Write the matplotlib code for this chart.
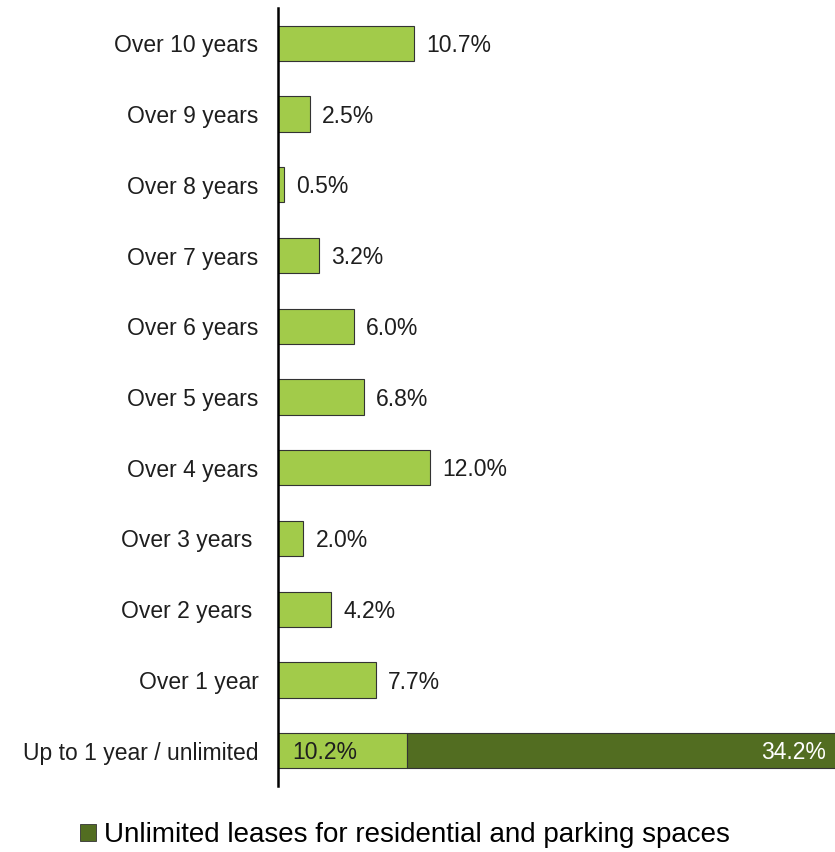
import matplotlib.pyplot as plt
from matplotlib.patches import Patch

plt.rcParams['font.family'] = ['Liberation Sans', 'DejaVu Sans']

# Lease durations, bottom to top
categories = ['Up to 1 year / unlimited', 'Over 1 year', 'Over 2 years ', 'Over 3 years ',
              'Over 4 years', 'Over 5 years', 'Over 6 years', 'Over 7 years',
              'Over 8 years', 'Over 9 years', 'Over 10 years']
shares = [10.2, 7.7, 4.2, 2.0, 12.0, 6.8, 6.0, 3.2, 0.5, 2.5, 10.7]
# extra segment only on the first bar
unlimited = [34.2, 0, 0, 0, 0, 0, 0, 0, 0, 0, 0]

light = '#a2cb4a'
dark = '#526d21'
txt = '#1e1e1e'
fs = 16.5

fig = plt.figure(figsize=(8.35, 8.52), dpi=100)
ax = fig.add_axes([278 / 835, 66 / 852, 557 / 835, 778 / 852])

y = list(range(len(categories)))
ax.barh(y, shares, height=0.5, color=light, edgecolor='#333333', linewidth=0.8)
ax.barh(y[0], unlimited[0], left=shares[0], height=0.5, color=dark,
        edgecolor='#333333', linewidth=0.8)

for i, v in enumerate(shares):
    x = 1.1 if i == 0 else v + 0.95
    ax.text(x, i - 0.03, f'{v:.1f}%', va='center', ha='left', fontsize=fs, color=txt)
ax.text(shares[0] + unlimited[0] - 1.2, -0.03, f'{unlimited[0]:.1f}%', va='center', ha='right',
        fontsize=fs, color='white')

ax.set_xlim(0, 557 / 12.69)
ax.set_ylim(-0.5, len(categories) - 0.5)
ax.set_yticks(y)
ax.set_yticklabels(categories, fontsize=fs, color=txt)
ax.tick_params(axis='y', length=0, pad=14)
ax.set_xticks([])
for side in ['top', 'right', 'bottom']:
    ax.spines[side].set_visible(False)
ax.spines['left'].set_linewidth(1.8)
ax.spines['left'].set_color('black')

handles = [Patch(facecolor=dark, edgecolor='#333333', linewidth=0.6,
                 label='Unlimited leases for residential and parking spaces')]
fig.legend(handles=handles, loc='center', bbox_to_anchor=(0.485, 17 / 852),
           frameon=False, fontsize=20, handlelength=0.55, handleheight=0.55,
           handletextpad=0.3)

fig.savefig('out.png', dpi=100)
